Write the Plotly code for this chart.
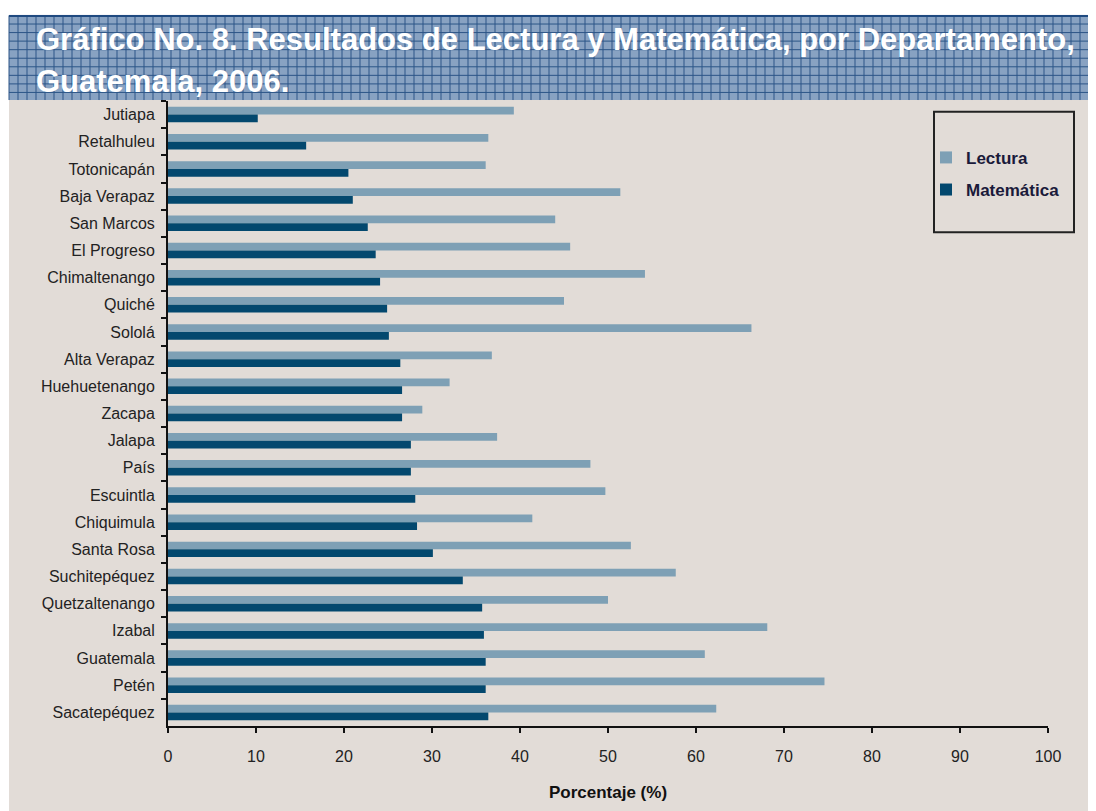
import plotly.graph_objects as go

departamentos = ["Jutiapa", "Retalhuleu", "Totonicapán", "Baja Verapaz", "San Marcos",
                 "El Progreso", "Chimaltenango", "Quiché", "Sololá", "Alta Verapaz",
                 "Huehuetenango", "Zacapa", "Jalapa", "País", "Escuintla", "Chiquimula",
                 "Santa Rosa", "Suchitepéquez", "Quetzaltenango", "Izabal", "Guatemala",
                 "Petén", "Sacatepéquez"]
lectura = [39.3, 36.4, 36.1, 51.4, 44.0, 45.7, 54.2, 45.0, 66.3, 36.8, 32.0, 28.9,
           37.4, 48.0, 49.7, 41.4, 52.6, 57.7, 50.0, 68.1, 61.0, 74.6, 62.3]
matematica = [10.2, 15.7, 20.5, 21.0, 22.7, 23.6, 24.1, 24.9, 25.1, 26.4, 26.6, 26.6,
              27.6, 27.6, 28.1, 28.3, 30.1, 33.5, 35.7, 35.9, 36.1, 36.1, 36.4]
x_ticks = [0, 10, 20, 30, 40, 50, 60, 70, 80, 90, 100]
titulo_1 = "Gráfico No. 8. Resultados de Lectura y Matemática, por Departamento,"
titulo_2 = "Guatemala, 2006."
eje_x = "Porcentaje (%)"

OFF = 8  # page body margin
W, H = 1096, 811 - OFF
L, R, T, B = 168 - OFF, 1048 - OFF, 101 - OFF, 744 - OFF
BG = "#e2dcd7"
C_LECT = "#7ea0b5"
C_MAT = "#03486e"


def xp(px):
    # px given in page pixels
    return (px - OFF - L) / (R - L)


def yp(py):
    return (B - (py - OFF)) / (B - T)


fig = go.Figure()
fig.add_trace(go.Bar(y=departamentos, x=lectura, name="Lectura", orientation="h",
                     marker=dict(color=C_LECT, line=dict(width=0)), legendgroup="a"))
fig.add_trace(go.Bar(y=departamentos, x=matematica, name="Matemática", orientation="h",
                     marker=dict(color=C_MAT, line=dict(width=0)), legendgroup="b"))

shapes = []
# white margins
shapes.append(dict(type="rect", xref="paper", yref="paper", x0=xp(0), x1=xp(1200), y0=yp(0), y1=yp(13),
                   fillcolor="white", line=dict(width=0), layer="below"))
shapes.append(dict(type="rect", xref="paper", yref="paper", x0=xp(0), x1=xp(9), y0=yp(0), y1=yp(900),
                   fillcolor="white", line=dict(width=0), layer="below"))
# banner
bx0, bx1, by0, by1 = 9, 1110, 13, 100
shapes.append(dict(type="rect", xref="paper", yref="paper", x0=xp(bx0), x1=xp(bx1), y0=yp(by1), y1=yp(by0),
                   fillcolor="#88a2c2", line=dict(width=0), layer="below"))
gx = bx0
while gx <= bx1:
    shapes.append(dict(type="line", xref="paper", yref="paper", x0=xp(gx), x1=xp(gx), y0=yp(by1), y1=yp(by0),
                       line=dict(color="#2c5587", width=1), layer="below"))
    gx += 9
gy = by0
while gy <= by1:
    shapes.append(dict(type="line", xref="paper", yref="paper", x0=xp(bx0), x1=xp(bx1), y0=yp(gy), y1=yp(gy),
                       line=dict(color="#2c5587", width=1), layer="below"))
    gy += 8.8
shapes.append(dict(type="line", xref="paper", yref="paper", x0=xp(bx0), x1=xp(bx1), y0=yp(by0 + 0.5), y1=yp(by0 + 0.5),
                   line=dict(color="#1f4a80", width=2), layer="below"))
# legend box
shapes.append(dict(type="rect", xref="paper", yref="paper", x0=xp(934), x1=xp(1074), y0=yp(236), y1=yp(112),
                   line=dict(color="#222222", width=2), fillcolor="rgba(0,0,0,0)"))

annotations = [
    dict(text="<b>" + titulo_1 + "</b>", xref="paper", yref="paper", x=xp(34), y=yp(38),
         xanchor="left", yanchor="middle", showarrow=False,
         font=dict(family="Liberation Sans, Arial", size=31, color="white")),
    dict(text="<b>" + titulo_2 + "</b>", xref="paper", yref="paper", x=xp(34), y=yp(81),
         xanchor="left", yanchor="middle", showarrow=False,
         font=dict(family="Liberation Sans, Arial", size=31, color="white")),
]

fig.update_layout(
    width=W, height=H,
    margin=dict(l=L, r=W - R, t=T, b=H - B, pad=0),
    paper_bgcolor=BG, plot_bgcolor=BG,
    barmode="group", bargap=0.43, bargroupgap=0,
    font=dict(family="Liberation Sans, Arial", size=16, color="#222222"),
    showlegend=True,
    legend=dict(x=xp(926), y=yp(141), xanchor="left", yanchor="top",
                bgcolor="rgba(0,0,0,0)", borderwidth=0, traceorder="grouped",
                tracegroupgap=7,
                font=dict(family="Liberation Sans, Arial", size=17, color="#1a1a3a", weight="bold")),
    shapes=shapes,
    annotations=annotations,
    xaxis=dict(range=[0, 100], tickvals=x_ticks, ticktext=[str(v) for v in x_ticks],
               showgrid=False, zeroline=False, showline=True, linecolor="#111111", linewidth=2,
               ticks="outside", ticklen=5, tickwidth=1.5, tickcolor="#111111",
               ticklabelstandoff=10, tickfont=dict(size=16, color="#222222"),
               title=dict(text="<b>" + eje_x + "</b>", standoff=22,
                          font=dict(size=17, color="#111111"))),
    yaxis=dict(autorange="reversed", type="category", showgrid=False, zeroline=False,
               showline=True, linecolor="#111111", linewidth=2,
               ticks="outside", ticklen=5, tickwidth=1.5, tickcolor="#111111",
               tickson="boundaries", ticklabelstandoff=8,
               tickfont=dict(size=16, color="#222222")),
)

fig.write_html("out.html")
